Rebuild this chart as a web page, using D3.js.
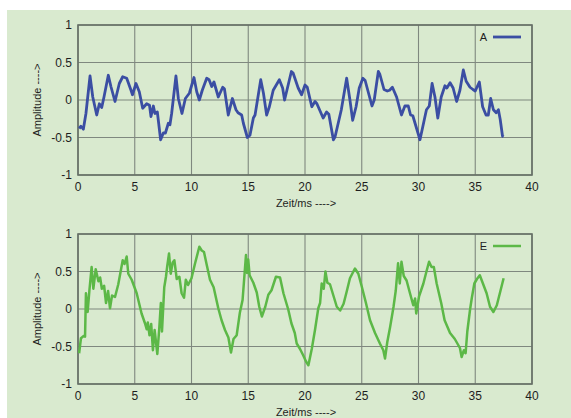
<!DOCTYPE html>
<html>
<head>
<meta charset="utf-8">
<script src="https://cdn.jsdelivr.net/npm/d3@7"></script>
<style>
  body { margin: 0; background: #fff; }
  svg { display: block; }
  text { font-family: "Liberation Sans", Arial, sans-serif; fill: #1e1e1e; }
</style>
</head>
<body>
<svg id="chart" width="571" height="418"></svg>
<script>
// time in ms, amplitude in -1..1
const aTime = [0.1, 0.26, 0.47, 0.7, 1.06, 1.3, 1.65, 1.88, 2.09, 2.29, 2.67, 2.9, 3.26, 3.64, 3.94, 4.29, 4.67, 4.8, 5.11, 5.4, 5.7, 6.05, 6.3, 6.43, 6.64, 6.78, 6.99, 7.28, 7.52, 7.7, 7.96, 8.1, 8.25, 8.63, 8.84, 9.16, 9.46, 9.81, 10.22, 10.46, 10.69, 10.95, 11.34, 11.55, 11.78, 11.98, 12.36, 12.75, 12.9, 13.24, 13.6, 13.92, 14.1, 14.42, 14.57, 14.92, 15.15, 15.45, 15.6, 16.1, 16.34, 16.62, 16.86, 17.2, 17.74, 18.03, 18.2, 18.8, 18.95, 19.4, 19.7, 20.0, 20.2, 20.6, 20.88, 21.05, 21.6, 21.9, 22.1, 22.5, 22.65, 23.2, 23.67, 23.96, 24.2, 24.5, 24.78, 25.1, 25.3, 25.6, 25.9, 26.1, 26.46, 26.6, 26.96, 27.25, 27.45, 27.7, 28.07, 28.5, 28.8, 29.1, 29.3, 29.5, 30.13, 30.5, 30.7, 30.95, 31.2, 31.45, 31.7, 32.0, 32.33, 32.5, 32.78, 33.05, 33.36, 33.65, 33.95, 34.2, 34.54, 34.8, 35.0, 35.36, 35.65, 35.95, 36.15, 36.36, 36.6, 36.85, 37.04, 37.2, 37.4, 37.5];
const aValue = [-0.38, -0.35, -0.39, -0.18, 0.32, 0.04, -0.2, -0.05, -0.1, 0.04, 0.33, 0.18, -0.02, 0.22, 0.31, 0.29, 0.13, 0.07, 0.22, 0.11, -0.11, -0.05, -0.07, -0.22, -0.08, -0.18, -0.16, -0.53, -0.44, -0.44, -0.31, -0.33, -0.18, 0.32, 0.02, -0.18, 0.02, 0.09, 0.3, 0.11, 0.0, 0.13, 0.29, 0.27, 0.18, 0.24, 0.04, 0.17, 0.15, -0.2, 0.02, -0.13, -0.17, -0.2, -0.31, -0.5, -0.47, -0.24, -0.2, 0.27, 0.09, -0.2, -0.09, 0.13, 0.27, 0.16, 0.0, 0.38, 0.36, 0.16, 0.07, 0.2, 0.17, -0.09, -0.02, -0.05, -0.24, -0.16, -0.19, -0.53, -0.49, -0.13, 0.29, 0.0, -0.27, -0.09, 0.16, 0.29, 0.26, 0.09, -0.08, 0.0, 0.38, 0.34, 0.14, 0.12, 0.13, 0.17, 0.04, -0.2, -0.08, -0.08, -0.2, -0.21, -0.53, -0.27, -0.13, -0.08, 0.22, 0.04, -0.24, 0.04, 0.19, 0.16, 0.23, 0.16, -0.02, 0.13, 0.4, 0.25, 0.17, 0.14, 0.12, 0.24, -0.09, -0.2, -0.2, 0.02, -0.13, -0.17, -0.13, -0.26, -0.48, -0.49];

const eTime = [0.1, 0.26, 0.5, 0.62, 0.7, 0.85, 1.0, 1.2, 1.35, 1.56, 1.8, 1.95, 2.1, 2.3, 2.47, 2.65, 2.82, 3.0, 3.26, 3.55, 3.94, 4.1, 4.29, 4.43, 4.73, 5.17, 5.6, 5.9, 6.05, 6.15, 6.3, 6.45, 6.6, 6.75, 6.99, 7.15, 7.3, 7.4, 7.6, 7.75, 7.87, 8.02, 8.17, 8.34, 8.49, 8.7, 8.93, 9.13, 9.34, 9.5, 9.7, 10.0, 10.3, 10.69, 10.9, 11.1, 11.34, 11.63, 11.95, 12.36, 12.65, 12.95, 13.25, 13.48, 13.7, 13.98, 14.26, 14.5, 14.8, 14.9, 15.0, 15.12, 15.45, 15.75, 15.97, 16.2, 16.5, 16.77, 17.05, 17.44, 17.8, 18.1, 18.53, 18.8, 19.1, 19.27, 19.55, 19.85, 20.09, 20.3, 20.6, 20.88, 21.17, 21.33, 21.47, 21.65, 21.8, 21.97, 22.2, 22.5, 22.8, 23.1, 23.4, 23.67, 23.96, 24.4, 24.7, 25.0, 25.37, 25.73, 26.17, 26.6, 26.9, 27.05, 27.25, 27.5, 27.8, 28.0, 28.2, 28.35, 28.5, 28.7, 28.95, 29.25, 29.54, 29.7, 29.8, 30.05, 30.43, 30.7, 30.93, 31.15, 31.35, 31.6, 32.0, 32.3, 32.78, 33.2, 33.65, 33.8, 34.0, 34.15, 34.3, 34.54, 34.7, 34.92, 35.15, 35.4, 35.7, 36.0, 36.3, 36.6, 36.9, 37.2, 37.5];
const eValue = [-0.59, -0.39, -0.36, -0.37, 0.21, -0.04, 0.24, 0.56, 0.27, 0.53, 0.37, 0.42, 0.27, 0.31, 0.08, 0.24, 0.01, 0.18, 0.16, 0.33, 0.65, 0.6, 0.7, 0.47, 0.39, 0.21, -0.06, -0.19, -0.27, -0.18, -0.35, -0.2, -0.55, -0.28, -0.6, -0.28, 0.08, -0.3, 0.29, 0.43, 0.58, 0.74, 0.47, 0.62, 0.65, 0.4, 0.43, 0.21, 0.15, 0.39, 0.32, 0.41, 0.6, 0.83, 0.78, 0.76, 0.59, 0.39, 0.29, 0.01, -0.15, -0.28, -0.38, -0.58, -0.4, -0.35, -0.05, 0.12, 0.72, 0.48, 0.66, 0.45, 0.35, 0.22, 0.03, -0.1, 0.03, 0.19, 0.25, 0.43, 0.42, 0.21, -0.01, -0.19, -0.32, -0.46, -0.53, -0.62, -0.7, -0.75, -0.53, -0.28, 0.01, 0.08, 0.34, 0.27, 0.5, 0.35, 0.33, 0.18, 0.03, -0.02, 0.07, 0.23, 0.41, 0.54, 0.47, 0.3, 0.08, -0.15, -0.32, -0.46, -0.55, -0.66, -0.44, -0.24, 0.03, 0.25, 0.61, 0.34, 0.63, 0.44, 0.38, 0.21, 0.05, 0.14, -0.06, 0.17, 0.34, 0.5, 0.63, 0.56, 0.56, 0.34, 0.08, -0.15, -0.32, -0.4, -0.52, -0.64, -0.55, -0.59, -0.3, -0.01, 0.15, 0.34, 0.4, 0.45, 0.33, 0.21, 0.03, -0.04, 0.05, 0.23, 0.41];

const xTicks = [0, 5, 10, 15, 20, 25, 30, 35, 40];
const yTicks = [-1, -0.5, 0, 0.5, 1];
const xTitle = 'Zeit/ms ---->';
const yTitle = 'Amplitude ---->';

const svg = d3.select('#chart');

svg.append('rect')
  .attr('x', 7).attr('y', 10)
  .attr('width', 564).attr('height', 408)
  .attr('fill', '#d9eacf');

const x = d3.scaleLinear().domain([0, 40]).range([78, 532]);

function panel(top, times, values, color, width, name) {
  const y = d3.scaleLinear().domain([-1, 1]).range([top + 150, top]);
  const g = svg.append('g');

  // grid
  g.selectAll('.vgrid').data(xTicks).enter().append('line')
    .attr('x1', d => x(d)).attr('x2', d => x(d))
    .attr('y1', top).attr('y2', top + 150)
    .attr('stroke', '#7f887f').attr('stroke-width', 1.1);
  g.selectAll('.hgrid').data(yTicks).enter().append('line')
    .attr('x1', 78).attr('x2', 532)
    .attr('y1', d => y(d)).attr('y2', d => y(d))
    .attr('stroke', '#7f887f').attr('stroke-width', 1.1);

  g.append('rect')
    .attr('x', 78).attr('y', top)
    .attr('width', 454).attr('height', 150)
    .attr('fill', 'none').attr('stroke', '#667066').attr('stroke-width', 1.6);

  // tick labels
  g.selectAll('.xl').data(xTicks).enter().append('text')
    .attr('x', d => x(d)).attr('y', top + 166)
    .attr('text-anchor', 'middle')
    .attr('font-size', 12)
    .text(d => d);
  g.selectAll('.yl').data(yTicks).enter().append('text')
    .attr('x', 72).attr('y', d => y(d) + 4)
    .attr('text-anchor', 'end')
    .attr('font-size', 12)
    .text(d => d);

  g.append('text')
    .attr('x', 306).attr('y', top + 182)
    .attr('text-anchor', 'middle')
    .attr('font-size', 11)
    .text(xTitle);
  g.append('text')
    .attr('transform', `translate(41,${top + 75}) rotate(-90)`)
    .attr('text-anchor', 'middle')
    .attr('font-size', 11)
    .text(yTitle);

  const line = d3.line()
    .x((d, i) => x(times[i]))
    .y(d => y(d));
  g.append('path')
    .datum(values)
    .attr('d', line)
    .attr('fill', 'none')
    .attr('stroke', color)
    .attr('stroke-width', width)
    .attr('stroke-linejoin', 'round');

  // legend
  g.append('text')
    .attr('x', 487).attr('y', top + 16)
    .attr('text-anchor', 'end')
    .attr('font-size', 11)
    .text(name);
  g.append('line')
    .attr('x1', 493).attr('x2', 521)
    .attr('y1', top + 12).attr('y2', top + 12)
    .attr('stroke', color).attr('stroke-width', width);
}

panel(25, aTime, aValue, '#3b4ea3', 2.8, 'A');
panel(234, eTime, eValue, '#5cb847', 2.5, 'E');
</script>
</body>
</html>
